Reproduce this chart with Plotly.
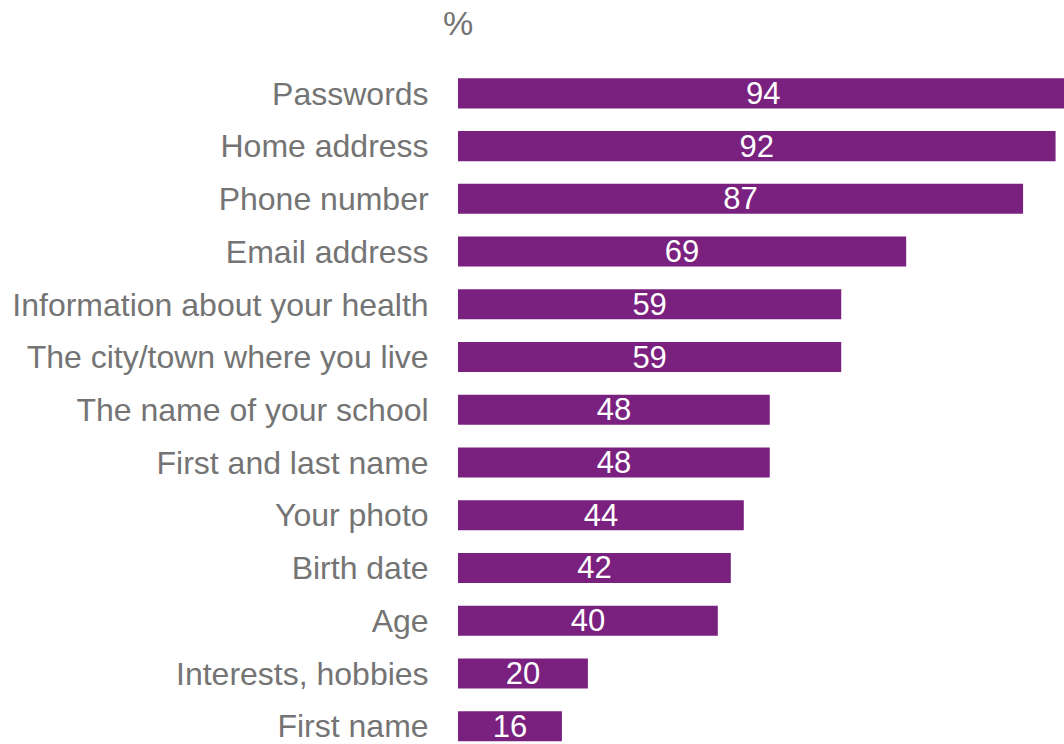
import plotly.graph_objects as go

categories = ["Passwords", "Home address", "Phone number", "Email address",
              "Information about your health", "The city/town where you live",
              "The name of your school", "First and last name", "Your photo",
              "Birth date", "Age", "Interests, hobbies", "First name"]
values = [94, 92, 87, 69, 59, 59, 48, 48, 44, 42, 40, 20, 16]
unit_label = "%"

FONT = "Liberation Sans, Arial, sans-serif"
GRAY = "#747474"
PURPLE = "#7a2180"
FS = 31

fig = go.Figure(go.Bar(
    x=values, y=categories, orientation="h",
    marker=dict(color=PURPLE, line=dict(width=0)),
    text=[str(v) for v in values], textposition="inside",
    insidetextanchor="middle", textangle=0, constraintext="none",
    textfont=dict(family=FONT, size=FS, color="white"),
    width=0.57, cliponaxis=True,
))

fig.update_layout(
    width=1064, height=744,
    margin=dict(l=458, r=0, t=67, b=0),
    paper_bgcolor="white", plot_bgcolor="white",
    showlegend=False,
    uniformtext=dict(minsize=FS, mode="show"),
    xaxis=dict(range=[0, 93.3], visible=False, fixedrange=True),
    yaxis=dict(type="category", categoryorder="array", categoryarray=categories,
               range=[12.3, -0.5], showgrid=False, zeroline=False, showline=False,
               ticks="outside", ticklen=22, tickcolor="rgba(0,0,0,0)",
               tickfont=dict(family=FONT, size=32, color=GRAY)),
    annotations=[dict(text=unit_label, xref="paper", yref="paper", x=0, y=1,
                      xanchor="center", yanchor="bottom", yshift=23, xshift=0,
                      showarrow=False, font=dict(family=FONT, size=34, color=GRAY))],
)

fig.write_html("out.html", config={"displayModeBar": False},
               post_script="document.body.style.margin='0';document.body.style.overflow='hidden';")
